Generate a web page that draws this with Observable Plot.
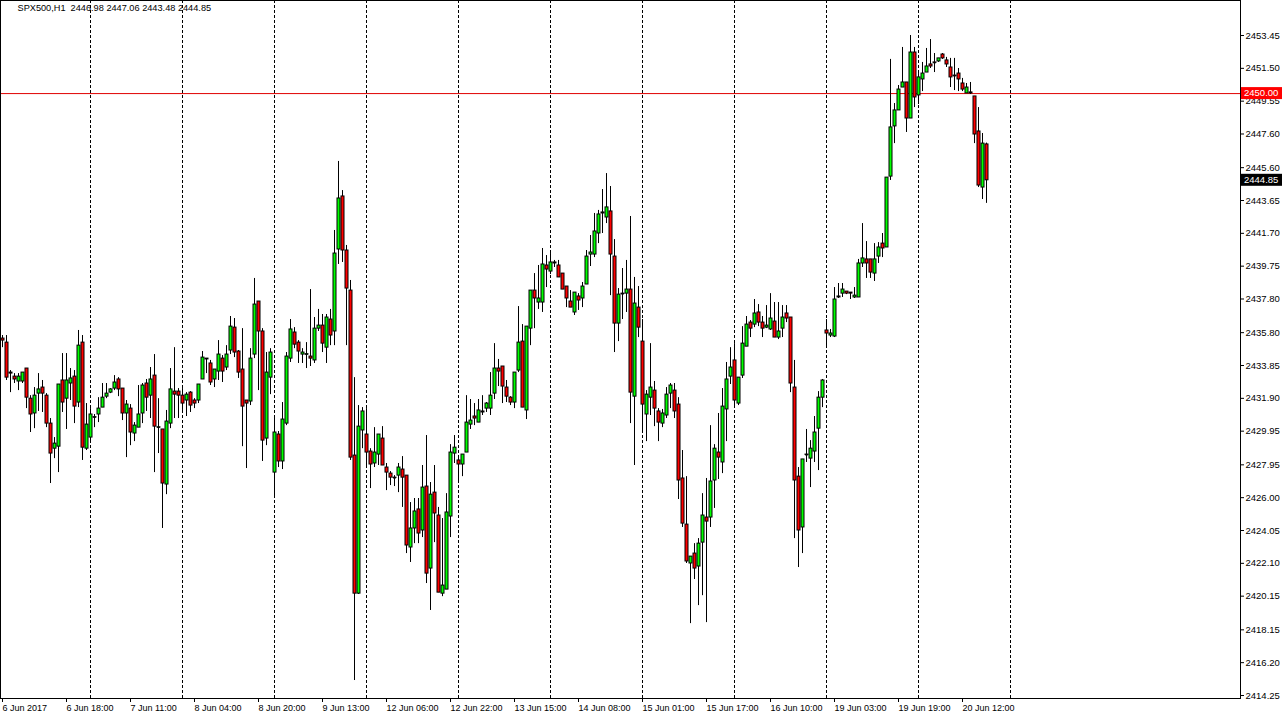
<!DOCTYPE html>
<html><head><meta charset="utf-8">
<script src="https://cdn.jsdelivr.net/npm/d3@7"></script>
<script src="https://cdn.jsdelivr.net/npm/@observablehq/plot@0.6"></script>
<style>html,body{margin:0;padding:0;background:#fff;overflow:hidden;} #chart{width:1284px;height:718px;overflow:hidden} #chart svg{display:block}</style>
</head><body><div id="chart"></div>
<script>
const symbolTitle = "SPX500,H1";
const openP = [2435.45,2435.21,2433.43,2433.19,2432.90,2432.90,2433.67,2431.88,2431.00,2432.18,2432.54,2432.06,2430.40,2428.91,2429.03,2432.96,2431.88,2432.78,2433.19,2431.65,2435.21,2428.91,2429.57,2430.76,2430.94,2431.35,2432.00,2432.24,2432.48,2433.02,2432.48,2431.00,2431.29,2429.81,2430.16,2431.00,2432.78,2432.06,2433.25,2430.16,2430.05,2426.78,2430.40,2432.30,2432.30,2432.06,2431.77,2432.24,2431.77,2431.77,2433.02,2434.26,2433.97,2433.02,2433.49,2434.26,2433.73,2434.74,2436.10,2434.68,2433.61,2431.77,2431.71,2434.50,2437.65,2435.87,2429.51,2433.13,2427.49,2429.75,2428.15,2430.40,2434.26,2435.81,2435.21,2434.50,2434.50,2434.38,2434.15,2436.04,2436.22,2434.91,2436.58,2435.87,2440.74,2443.89,2440.68,2438.30,2428.50,2420.30,2429.99,2429.75,2428.74,2428.03,2428.56,2429.51,2427.79,2427.43,2427.19,2427.31,2427.67,2427.31,2423.04,2424.17,2425.30,2424.05,2426.66,2421.79,2426.30,2424.94,2420.30,2420.54,2424.88,2428.62,2428.21,2427.97,2428.68,2430.34,2430.82,2430.46,2431.12,2431.29,2431.29,2432.18,2433.67,2433.79,2432.54,2431.94,2431.65,2433.55,2435.27,2431.18,2436.04,2438.30,2437.59,2437.59,2439.79,2439.43,2439.91,2439.79,2439.31,2438.54,2437.65,2437.00,2437.95,2437.83,2438.66,2440.44,2440.44,2441.69,2442.88,2442.64,2443.00,2440.32,2436.34,2438.12,2438.12,2438.36,2432.00,2437.29,2435.27,2430.94,2431.94,2432.36,2431.12,2430.40,2430.88,2432.18,2432.36,2431.53,2427.14,2424.40,2422.09,2422.68,2421.91,2423.33,2424.82,2424.82,2427.02,2428.68,2428.09,2431.24,2433.19,2434.15,2431.59,2433.25,2434.97,2436.40,2436.28,2437.00,2436.40,2436.10,2435.99,2436.46,2435.51,2436.04,2436.94,2436.70,2432.54,2427.25,2424.23,2428.56,2428.32,2428.74,2430.10,2431.94,2435.93,2435.63,2435.57,2437.89,2438.12,2438.24,2438.18,2437.89,2437.89,2439.91,2440.15,2440.15,2439.31,2440.32,2441.09,2440.86,2445.07,2448.05,2449.00,2450.36,2450.66,2448.52,2452.44,2449.89,2450.84,2451.25,2451.73,2451.85,2451.91,2452.32,2451.97,2451.55,2451.07,2451.19,2450.60,2450.01,2450.07,2449.83,2447.75,2444.42,2446.98];
const highP = [2435.63,2435.63,2433.55,2433.37,2433.37,2433.43,2433.67,2432.06,2432.54,2433.37,2432.96,2432.18,2430.70,2429.57,2432.72,2434.56,2434.56,2433.67,2433.55,2435.93,2435.63,2431.59,2431.29,2430.94,2431.94,2432.78,2432.78,2432.48,2433.25,2433.13,2432.48,2431.77,2431.53,2430.46,2432.66,2432.78,2433.02,2433.73,2434.50,2431.88,2430.05,2431.18,2433.67,2434.91,2432.48,2432.48,2432.24,2432.30,2431.88,2432.72,2434.68,2434.26,2434.15,2433.61,2435.33,2434.44,2435.03,2436.76,2436.64,2434.74,2436.04,2431.77,2434.85,2439.02,2437.65,2436.04,2434.62,2434.85,2430.88,2429.93,2431.65,2434.62,2436.58,2436.10,2435.33,2434.85,2435.21,2438.36,2436.70,2437.18,2436.88,2436.88,2437.18,2441.87,2445.97,2444.24,2440.98,2438.90,2433.13,2431.47,2431.35,2431.29,2428.91,2430.16,2429.75,2430.22,2428.03,2427.55,2427.31,2428.03,2428.44,2427.31,2425.71,2425.95,2425.95,2427.91,2429.69,2426.90,2427.91,2425.42,2424.76,2426.24,2429.15,2429.69,2428.38,2428.56,2432.06,2431.83,2431.59,2431.83,2432.06,2431.65,2433.43,2435.15,2434.21,2433.79,2432.96,2432.00,2433.43,2437.35,2436.28,2436.16,2438.30,2439.31,2439.79,2440.80,2440.38,2440.50,2440.09,2440.09,2439.31,2438.54,2438.30,2438.18,2438.12,2438.78,2440.68,2441.57,2442.88,2443.06,2444.30,2445.25,2444.48,2441.33,2438.42,2439.61,2440.09,2442.70,2439.08,2438.54,2436.58,2432.36,2435.15,2432.90,2431.29,2431.24,2432.54,2432.78,2432.78,2431.94,2428.80,2427.25,2422.50,2423.27,2423.57,2426.24,2427.14,2430.28,2429.15,2431.00,2432.48,2434.03,2434.91,2435.15,2433.13,2436.16,2436.76,2436.52,2437.77,2437.47,2436.76,2437.41,2438.12,2437.59,2437.59,2437.41,2437.41,2436.70,2434.15,2427.79,2428.27,2430.05,2429.39,2430.82,2432.30,2433.02,2436.58,2435.99,2438.48,2438.72,2438.72,2438.24,2438.18,2438.48,2440.15,2442.28,2441.21,2440.15,2441.09,2441.15,2441.69,2445.01,2452.03,2449.41,2450.48,2452.74,2450.66,2453.45,2452.74,2451.19,2451.85,2452.68,2453.21,2452.38,2452.09,2452.38,2452.15,2452.09,2452.09,2451.49,2450.90,2450.60,2450.66,2449.83,2449.17,2447.63,2447.06];
const lowP = [2434.91,2432.96,2432.24,2432.78,2432.36,2432.78,2431.29,2429.87,2430.10,2431.12,2431.06,2430.16,2426.84,2428.32,2427.49,2431.06,2430.05,2431.77,2430.40,2431.35,2428.21,2428.80,2429.27,2430.16,2430.46,2431.35,2431.88,2432.18,2432.36,2432.00,2430.58,2428.38,2429.09,2429.33,2430.16,2430.40,2431.12,2430.70,2427.49,2428.62,2424.17,2426.18,2430.10,2430.70,2430.70,2431.18,2430.82,2431.06,2431.29,2431.59,2433.02,2433.37,2432.66,2432.54,2432.96,2432.84,2433.55,2434.50,2434.32,2433.08,2429.03,2427.73,2431.47,2434.26,2432.36,2428.15,2429.09,2432.12,2425.95,2427.79,2427.67,2430.28,2434.03,2434.85,2433.97,2433.97,2433.67,2433.79,2433.97,2435.87,2434.62,2433.97,2435.03,2435.03,2439.85,2439.97,2435.03,2428.21,2415.14,2420.25,2428.91,2427.91,2426.54,2427.79,2427.91,2427.91,2426.42,2426.72,2426.66,2426.30,2425.42,2422.68,2422.15,2423.27,2423.27,2423.63,2420.90,2419.30,2423.33,2420.36,2420.12,2420.54,2423.63,2428.03,2426.84,2427.25,2428.68,2430.05,2430.28,2430.46,2430.88,2431.06,2430.88,2431.83,2432.60,2431.59,2431.65,2431.47,2431.29,2433.43,2431.35,2430.64,2435.03,2436.04,2437.18,2437.00,2438.48,2439.25,2439.67,2439.08,2438.36,2437.29,2437.29,2436.82,2437.12,2437.29,2438.66,2439.73,2440.26,2441.09,2441.69,2442.28,2438.00,2434.62,2435.27,2436.58,2437.00,2430.40,2427.91,2435.51,2429.99,2429.33,2430.88,2430.22,2429.33,2430.16,2430.70,2431.29,2430.70,2425.89,2424.23,2422.09,2418.52,2421.14,2419.59,2420.18,2418.58,2424.23,2425.36,2427.08,2427.43,2429.33,2432.72,2431.41,2431.47,2433.08,2434.97,2435.51,2436.10,2436.16,2435.51,2436.04,2435.93,2435.51,2435.39,2435.51,2436.40,2432.24,2423.57,2421.85,2422.68,2428.09,2426.60,2428.09,2427.61,2431.35,2434.97,2435.51,2435.51,2437.83,2437.89,2438.06,2437.77,2437.83,2437.89,2439.67,2439.02,2439.02,2438.84,2439.91,2440.26,2440.86,2444.84,2447.03,2449.00,2450.36,2447.69,2448.52,2449.17,2449.35,2450.12,2451.25,2451.49,2451.25,2451.85,2452.03,2451.55,2450.36,2450.18,2450.12,2450.12,2450.01,2449.95,2447.03,2444.42,2443.71,2443.48];
const closeP = [2435.33,2433.13,2433.37,2433.02,2433.19,2433.43,2431.94,2430.94,2432.06,2432.43,2432.18,2430.40,2428.62,2429.21,2432.72,2431.65,2432.96,2433.08,2431.41,2435.03,2428.97,2430.34,2430.94,2430.78,2431.29,2431.94,2432.18,2432.43,2432.84,2432.43,2431.00,2431.53,2429.87,2430.28,2430.94,2432.66,2431.94,2433.02,2430.22,2430.18,2426.84,2430.52,2432.43,2432.12,2432.06,2431.59,2432.12,2431.47,2431.59,2432.72,2434.32,2434.21,2432.84,2433.61,2434.50,2433.49,2434.50,2436.16,2434.62,2433.43,2431.41,2431.59,2434.26,2437.47,2435.87,2429.39,2433.43,2434.62,2429.87,2428.15,2430.64,2434.38,2435.99,2435.09,2434.68,2434.62,2434.52,2434.26,2436.04,2436.22,2435.15,2436.70,2435.63,2440.50,2443.77,2440.68,2438.42,2428.38,2420.30,2430.22,2431.12,2428.68,2427.97,2428.68,2429.75,2427.91,2427.49,2427.19,2427.17,2427.79,2427.19,2423.16,2424.17,2425.18,2423.87,2426.60,2421.49,2426.18,2425.06,2420.36,2420.78,2425.12,2428.68,2428.97,2427.97,2428.56,2430.46,2430.58,2430.70,2431.18,2431.06,2431.59,2432.06,2433.67,2433.49,2432.60,2432.00,2431.65,2433.43,2435.21,2431.35,2436.16,2438.30,2437.83,2437.83,2439.85,2439.55,2439.97,2439.97,2439.08,2438.36,2437.83,2437.29,2438.18,2437.71,2438.54,2440.32,2440.56,2441.81,2442.82,2442.94,2443.24,2440.44,2436.34,2438.06,2438.10,2438.36,2432.24,2437.53,2436.10,2431.53,2432.12,2432.54,2431.29,2430.46,2431.00,2432.12,2432.66,2431.12,2427.02,2424.46,2422.21,2422.50,2421.79,2423.27,2424.94,2424.58,2426.96,2428.91,2428.38,2431.41,2433.02,2433.73,2431.77,2433.13,2435.15,2436.28,2436.04,2436.94,2436.40,2436.04,2436.22,2436.64,2435.51,2435.87,2436.70,2436.64,2432.78,2427.02,2424.05,2428.27,2428.54,2428.91,2429.87,2431.94,2432.96,2435.75,2435.75,2437.77,2437.95,2438.36,2438.12,2438.12,2438.00,2439.91,2440.21,2439.91,2439.37,2440.15,2440.86,2440.80,2445.01,2447.99,2449.00,2450.24,2450.66,2448.52,2452.44,2449.77,2450.96,2451.19,2451.61,2451.61,2451.83,2452.09,2452.09,2451.73,2450.96,2451.05,2450.84,2450.24,2450.36,2450.01,2447.57,2444.54,2447.03,2444.85];
const timeTickBars = [0,16,32,48,64,80,96,112,128,144,160,176,192,208,224,240];
const timeTickLabels = ["6 Jun 2017","6 Jun 18:00","7 Jun 11:00","8 Jun 04:00","8 Jun 20:00","9 Jun 13:00","12 Jun 06:00","12 Jun 22:00","13 Jun 15:00","14 Jun 08:00","15 Jun 01:00","15 Jun 17:00","16 Jun 10:00","19 Jun 03:00","19 Jun 19:00","20 Jun 12:00"];
const daySeparatorBars = [22,45,68,91,114,137,160,183,206,229,252];
const priceTicks = [2453.45,2451.50,2449.55,2447.60,2445.60,2443.65,2441.70,2439.75,2437.80,2435.80,2433.85,2431.90,2429.95,2427.95,2426.00,2424.05,2422.10,2420.15,2418.15,2416.20,2414.25];
const levelLine = 2450.00;

const bars = openP.map((o, i) => ({
  i, open: o, close: closeP[i],
  high: Math.max(highP[i], o, closeP[i]),
  low: Math.min(lowP[i], o, closeP[i])
}));
const dojis = bars.filter(d => Math.abs(d.close - d.open) < 0.03);
const last = bars[bars.length - 1];
const header = `${symbolTitle}  ${last.open.toFixed(2)} ${last.high.toFixed(2)} ${last.low.toFixed(2)} ${last.close.toFixed(2)}`;
const timeMap = new Map(timeTickBars.map((b, k) => [b, timeTickLabels[k]]));

const plot = Plot.plot({
  width: 1284, height: 718,
  marginLeft: 0, marginRight: 44, marginTop: 0, marginBottom: 20,
  style: {fontFamily: "'Liberation Sans', Arial, sans-serif", fontSize: "9.5px", background: "#fff", color: "#000"},
  x: {domain: [-0.5, 309.5], axis: null, label: null},
  y: {domain: [2414.072, 2455.529], axis: null, label: null},
  marks: [
    Plot.ruleX(daySeparatorBars, {stroke: "#000", strokeDasharray: "3,2"}),
    Plot.ruleY([levelLine], {stroke: "#e00000"}),
    Plot.ruleX(bars, {x: "i", y1: "low", y2: "high", stroke: "#000"}),
    Plot.rect(bars, {x1: d => d.i - 0.25, x2: d => d.i + 0.5, y1: "open", y2: "close",
      fill: d => d.close > d.open ? "#00ff00" : (d.close < d.open ? "#ff0000" : "#000"), stroke: "#000", strokeWidth: 1}),
    Plot.ruleY(dojis, {y: "close", x1: d => d.i - 0.25, x2: d => d.i + 0.5, stroke: "#000"}),
    Plot.frame({stroke: "#000"}),
    Plot.axisX(timeTickBars, {anchor: "bottom", label: null, tickSize: 4, tickPadding: 2, tickFormat: d => timeMap.get(d), textAnchor: "start", fontSize: 9}),
    Plot.axisY(priceTicks, {anchor: "right", label: null, tickSize: 3, tickPadding: 2, tickFormat: d => d.toFixed(2), textAnchor: "start"}),
    Plot.text([header], {frameAnchor: "top-left", dx: 17, dy: 4, text: d => d, lineAnchor: "top", fill: "#000", fontSize: 9.2})
  ]
});

const ys = plot.scale("y");
const svg = d3.select(plot);
function priceTag(v, bg) {
  const yy = ys.apply(v);
  svg.append("rect").attr("x", 1241).attr("y", yy - 6).attr("width", 41).attr("height", 12).attr("fill", bg);
  svg.append("text").attr("x", 1244).attr("y", yy).attr("dy", "0.35em").attr("fill", "#fff")
    .attr("text-anchor", "start").attr("font-size", 9.5).text(v.toFixed(2));
}
priceTag(levelLine, "#ff0000");
priceTag(last.close, "#000");
document.getElementById("chart").appendChild(plot);
</script>
</body></html>
